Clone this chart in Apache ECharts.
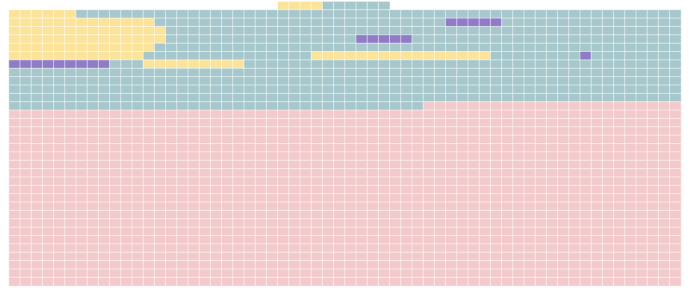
<!DOCTYPE html>
<html><head><meta charset="utf-8">
<script src="https://cdn.jsdelivr.net/npm/echarts@6/dist/echarts.min.js"></script>
<style>html,body{margin:0;padding:0;background:#fff}#c{width:690px;height:288px}</style>
</head><body><div id="c"></div>
<script>
// category codes: 0 = pink, 1 = teal, 2 = yellow, 3 = purple, -1 = empty
const categoryNames = ['Pink', 'Teal', 'Yellow', 'Purple'];
const categoryColors = ['#f3cacb', '#a6c8cc', '#fce39a', '#8f7bc6'];
const columnLabels = Array.from({length: 60}, (_, i) => String(i + 1));
const rowLabels = Array.from({length: 34}, (_, i) => String(i + 1));
// each row (top to bottom) as runs of [category, count]
const rowRuns = [
  [[-1, 24], [2, 4], [1, 6], [-1, 26]],
  [[2, 6], [1, 54]],
  [[2, 13], [1, 26], [3, 5], [1, 16]],
  [[2, 14], [1, 46]],
  [[2, 14], [1, 17], [3, 5], [1, 24]],
  [[2, 13], [1, 47]],
  [[2, 12], [1, 15], [2, 16], [1, 8], [3, 1], [1, 8]],
  [[3, 9], [1, 3], [2, 9], [1, 39]],
  [[1, 60]],
  [[1, 60]],
  [[1, 60]],
  [[1, 60]],
  [[1, 37], [0, 23]],
  [[0, 60]], [[0, 60]], [[0, 60]], [[0, 60]], [[0, 60]], [[0, 60]], [[0, 60]],
  [[0, 60]], [[0, 60]], [[0, 60]], [[0, 60]], [[0, 60]], [[0, 60]], [[0, 60]],
  [[0, 60]], [[0, 60]], [[0, 60]], [[0, 60]], [[0, 60]], [[0, 60]], [[0, 60]]
];

const data = [];
rowRuns.forEach((runs, r) => {
  let c = 0;
  runs.forEach(([cat, n]) => {
    for (let k = 0; k < n; k++, c++) {
      if (cat >= 0) data.push([c, r, cat]);
    }
  });
});

const chart = echarts.init(document.getElementById('c'), null, {renderer: 'canvas'});
chart.setOption({
  animation: false,
  grid: {left: 9, right: 9, top: 1.6, bottom: 2.1},
  xAxis: {type: 'category', data: columnLabels, show: false},
  yAxis: {type: 'category', data: rowLabels, show: false, inverse: true},
  visualMap: {
    show: false, type: 'piecewise', dimension: 2,
    pieces: categoryNames.map((n, i) => ({value: i, label: n, color: categoryColors[i]}))
  },
  series: [{
    type: 'heatmap', data: data, silent: true,
    itemStyle: {borderColor: 'rgba(255,255,255,0.85)', borderWidth: 0.6}
  }]
});
</script></body></html>
